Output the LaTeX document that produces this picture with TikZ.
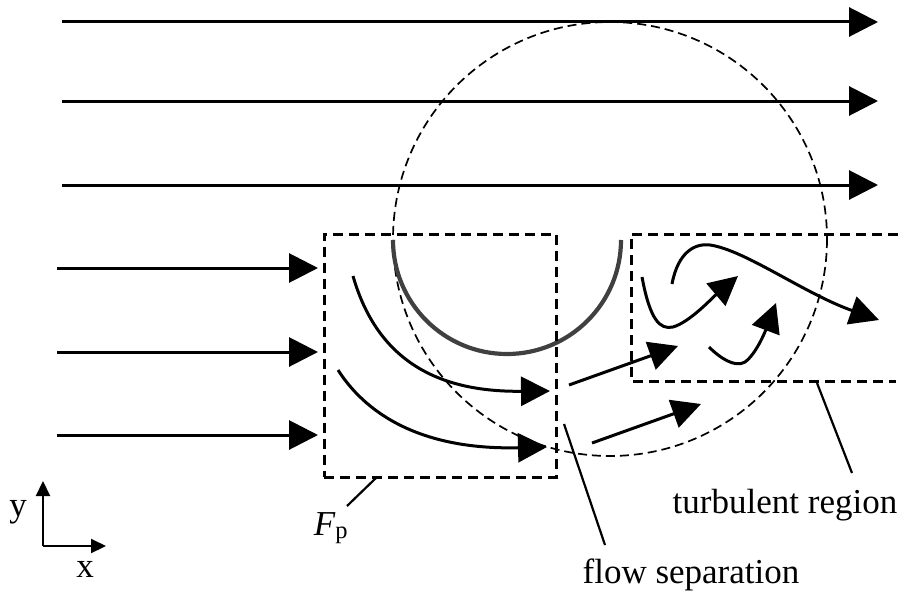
\documentclass[tikz,border=0pt]{standalone}
\usepackage{amsmath}
\usepackage{fontspec}
\setmainfont{Liberation Serif}
\usetikzlibrary{positioning,arrows.meta,calc}

\begin{document}
\begin{tikzpicture}[
  x=1pt, y=-1pt,
  >={Triangle[length=29pt,width=29pt]},
  flow/.style={->, line width=3pt},
  dbox/.style={draw, dash pattern=on 10pt off 6pt, line width=3pt},
  circ/.style={draw, dash pattern=on 9pt off 5pt, line width=1.7pt},
  body/.style={draw=black!75, line width=4.2pt},
  lead/.style={line width=2.2pt},
  lab/.style={font=\fontsize{35}{40}\selectfont, inner sep=0pt},
]
\useasboundingbox (0,0) rectangle (904,594);

% influence circle and cylinder
\draw[circ] (610,239) circle[radius=217];
\draw[body] (393,240) arc[start angle=180, end angle=0, radius=114];

% free stream
\foreach \yy in {22,101,185} { \draw[flow] (62,\yy) -- (878,\yy); }
\foreach \yy in {268,352,435} { \draw[flow] (57,\yy) -- (318,\yy); }

% pressure box and turbulent region
\node[dbox, minimum width=232pt, minimum height=243pt, inner sep=0pt] (fp) at (440,355.5) {};
\draw[dbox] (898,234) -- (631,234) -- (631,381) -- (896,381);

% flow round the body
\draw[flow] (353,276) .. controls (380,370) and (450,392) .. (550,391);
\draw[flow] (338,370) .. controls (370,420) and (430,450) .. (547,447);
\draw[flow] (569,385) -- (678,346);
\draw[flow] (592,443) -- (701,404);

% wake eddies
\draw[flow] (642,277) .. controls (650,320) and (660,330) .. (673,327) .. controls (690,322) and (712,298) .. (738,276);
\draw[flow] (672,284) .. controls (678,252) and (695,243) .. (710,245) .. controls (745,250) and (805,294) .. (879,320);
\draw[flow] (709,347) .. controls (720,358) and (735,368) .. (745,362) .. controls (756,354) and (765,332) .. (776,303);

% labels
\node[lab, anchor=base] (fplab) at (331,535) {\textit{F}$_{\text{p}}$};
\node[lab, anchor=base] (seplab) at (691,583) {flow separation};
\node[lab, anchor=base] (turblab) at (785,513) {turbulent region};
\draw[lead] (347,506) -- (377,477);
\draw[lead] (564,424) -- (605,545);
\draw[lead] (817,383) -- (852,473);

% axes
\coordinate (o) at (43,546);
\draw[->, >={Triangle[length=15pt,width=14pt]}, line width=2.2pt] (o) -- (106,546);
\draw[->, >={Triangle[length=15pt,width=14pt]}, line width=2.2pt] (o) -- (43,481);
\node[lab, anchor=base] (ylab) at (18,516) {y};
\node[lab, anchor=base] (xlab) at (85,577) {x};
\end{tikzpicture}
\end{document}
